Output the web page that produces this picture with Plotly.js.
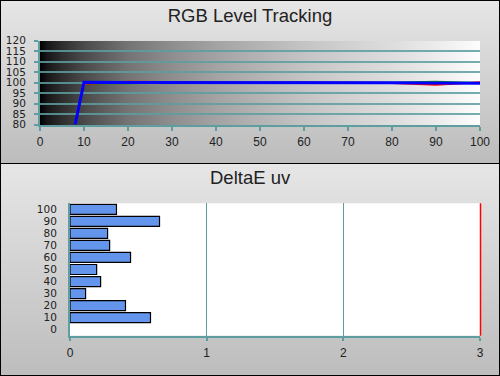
<!DOCTYPE html>
<html>
<head>
<meta charset="utf-8">
<script src="https://cdn.plot.ly/plotly-3.0.1.min.js"></script>
<style>
  html, body { margin: 0; padding: 0; background: #fff; }
  #wrap { position: relative; width: 500px; height: 376px; overflow: hidden; }
  .panel { position: absolute; left: 0; width: 498px; border: 1px solid #000; }
  #p1 { top: 0; height: 162px; background: linear-gradient(to bottom, #e6e6e6, #bcbcbc); }
  #p2 { top: 163px; height: 211px; background: linear-gradient(to bottom, #e6e6e6, #bdbdbd); }
  #ramp { position: absolute; left: 40px; top: 40.5px; width: 440px; height: 84px;
    background: linear-gradient(to right, #000 0%, #151515 1.5%, #2e2e2e 5%, #4a4a4a 10%, #747474 20%, #8e8e8e 30%, #a3a3a3 40%, #b4b4b4 50%, #c4c4c4 60%, #d1d1d1 70%, #dddddd 80%, #ececec 90%, #fdfdfd 100%); }
  #chart { position: absolute; left: 0; top: 0; width: 500px; height: 376px; }
</style>
</head>
<body>
<div id="wrap">
  <div class="panel" id="p1"></div>
  <div class="panel" id="p2"></div>
  <div id="ramp"></div>
  <div id="chart"></div>
</div>
<script>
// ---- data ----
const levels = [0, 10, 20, 30, 40, 50, 60, 70, 80, 90, 100];
const redLevel   = [0, 99.3, 100.3, 100.1, 100.0, 99.9, 100.0, 99.9, 99.8, 98.9, 100.1];
const greenLevel = [0, 99.8, 99.6, 100.0, 100.0, 100.0, 99.9, 100.0, 99.9, 100.4, 99.8];
const blueLevel  = [0, 100.1, 100.0, 100.0, 100.0, 100.0, 100.2, 100.0, 99.9, 99.8, 99.6];

const deLevels = [10, 20, 30, 40, 50, 60, 70, 80, 90, 100];
const deltaEuv = [0.589, 0.406, 0.114, 0.224, 0.195, 0.443, 0.29, 0.275, 0.655, 0.34];
const deTicks = [0, 1, 2, 3];
const yLevelTicks = [80, 85, 90, 95, 100, 105, 110, 115, 120];
const deBoundaries = [-5, 5, 15, 25, 35, 45, 55, 65, 75, 85, 95, 105];

// ---- styles ----
const teal = '#5f9ea0';
const tealGrid = 'rgba(95,158,160,0.85)';
const fontFam = 'Liberation Sans, Arial, sans-serif';
const tickFont = { family: fontFam, size: 12, color: '#222' };
const yTickFont = { family: 'DejaVu Sans, sans-serif', size: 10.5, color: '#222' };
const yTickFont2 = { family: 'DejaVu Sans, sans-serif', size: 10.5, color: '#222' };

const traces = [
  { type: 'scatter', mode: 'lines', x: levels, y: redLevel, xaxis: 'x', yaxis: 'y',
    line: { color: '#ff0000', width: 2 }, hoverinfo: 'skip' },
  { type: 'scatter', mode: 'lines', x: levels, y: greenLevel, xaxis: 'x', yaxis: 'y',
    line: { color: '#00a000', width: 2 }, hoverinfo: 'skip' },
  { type: 'scatter', mode: 'lines', x: levels, y: blueLevel, xaxis: 'x', yaxis: 'y',
    line: { color: '#0000ff', width: 3 }, hoverinfo: 'skip' },
  { type: 'bar', orientation: 'h', x: deltaEuv, y: deLevels, width: 8.3,
    xaxis: 'x2', yaxis: 'y2',
    marker: { color: '#6495ed', line: { color: '#000', width: 1.2 } }, hoverinfo: 'skip' }
];

const topY = [1 - 124.5 / 376, 1 - 40.5 / 376];
const botY = [1 - 335.7 / 376, 1 - 203.3 / 376];
const botX = [0.14, 0.96];

const layout = {
  width: 500, height: 376,
  margin: { l: 0, r: 0, t: 0, b: 0, pad: 0 },
  paper_bgcolor: 'rgba(0,0,0,0)',
  plot_bgcolor: 'rgba(0,0,0,0)',
  showlegend: false,
  bargap: 0,
  title: { text: 'RGB Level Tracking', x: 0.5, xanchor: 'center', y: 1 - 16 / 376, yanchor: 'middle',
    font: { family: fontFam, size: 18.5, color: '#222' } },
  annotations: [
    { text: 'DeltaE uv', xref: 'paper', yref: 'paper', x: 0.5, y: 1 - 177 / 376,
      xanchor: 'center', yanchor: 'middle', showarrow: false,
      font: { family: fontFam, size: 18.5, color: '#222' } }
  ],
  // top chart
  xaxis: { domain: [0.08, 0.96], anchor: 'y', range: [0, 100], tickvals: levels,
    ticks: 'outside', ticklen: 4, tickwidth: 2, tickcolor: teal,
    showline: true, linecolor: teal, linewidth: 2, showgrid: false, zeroline: false,
    tickfont: tickFont, ticklabelstandoff: 1, fixedrange: true },
  xaxis3: { overlaying: 'x', anchor: 'y', side: 'bottom', range: [0, 100], tickvals: levels,
    ticks: 'inside', ticklen: 4, tickwidth: 2, tickcolor: teal, showticklabels: false,
    showline: false, showgrid: false, zeroline: false, fixedrange: true },
  yaxis: { domain: topY, anchor: 'x', range: [80, 120], tickvals: yLevelTicks,
    ticks: 'outside', ticklen: 4, tickwidth: 2, tickcolor: teal,
    showline: true, linecolor: teal, linewidth: 2,
    showgrid: true, gridcolor: tealGrid, gridwidth: 2, zeroline: false,
    tickfont: yTickFont, ticklabelstandoff: 6, fixedrange: true },
  yaxis3: { overlaying: 'y', anchor: 'x', side: 'left', range: [80, 120], tickvals: yLevelTicks,
    ticks: 'inside', ticklen: 4, tickwidth: 2, tickcolor: teal, showticklabels: false,
    showline: false, showgrid: false, zeroline: false, fixedrange: true },
  // bottom chart
  xaxis2: { domain: botX, anchor: 'y2', range: [0, 3], tickvals: deTicks,
    ticks: 'outside', ticklen: 3, tickwidth: 2, tickcolor: teal,
    showline: true, linecolor: teal, linewidth: 2,
    showgrid: true, gridcolor: teal, gridwidth: 1, zeroline: false,
    tickfont: tickFont, ticklabelstandoff: 2, fixedrange: true },
  xaxis4: { overlaying: 'x2', anchor: 'y2', side: 'bottom', range: [0, 3], tickvals: deTicks,
    ticks: 'inside', ticklen: 3, tickwidth: 2, tickcolor: teal, showticklabels: false,
    showline: false, showgrid: false, zeroline: false, fixedrange: true },
  yaxis2: { domain: botY, anchor: 'x2', range: [-5, 105], tickvals: levels,
    ticks: '', showline: true, linecolor: teal, linewidth: 2,
    showgrid: false, zeroline: false, tickfont: yTickFont2, ticklabelstandoff: 9, fixedrange: true },
  yaxis4: { overlaying: 'y2', anchor: 'x2', side: 'left', range: [-5, 105], tickvals: deBoundaries,
    ticks: 'outside', ticklen: 4, tickwidth: 2, tickcolor: teal, showticklabels: false,
    showline: false, showgrid: false, zeroline: false, fixedrange: true },
  yaxis5: { overlaying: 'y2', anchor: 'x2', side: 'left', range: [-5, 105], tickvals: deBoundaries,
    ticks: 'inside', ticklen: 4, tickwidth: 2, tickcolor: teal, showticklabels: false,
    showline: false, showgrid: false, zeroline: false, fixedrange: true },
  shapes: [
    { type: 'rect', xref: 'x2 domain', yref: 'y2 domain', x0: 0, x1: 1, y0: 0, y1: 1,
      fillcolor: '#ffffff', line: { width: 0 }, layer: 'below' },
    // red limit line at the right edge of the DeltaE plot (DeltaE = 3)
    { type: 'line', xref: 'paper', yref: 'paper', x0: botX[1] + 0.5 / 500, x1: botX[1] + 0.5 / 500,
      y0: botY[0], y1: botY[1], line: { color: '#ff0000', width: 1.5 }, layer: 'above' }
  ]
};

Plotly.newPlot('chart', traces, layout, { staticPlot: true, displayModeBar: false });
</script>
</body>
</html>
